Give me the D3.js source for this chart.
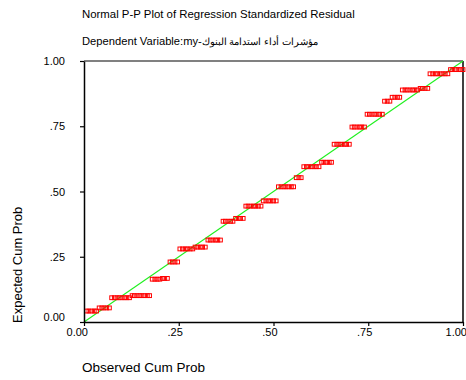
<!DOCTYPE html>
<html>
<head>
<meta charset="utf-8">
<script src="https://cdn.jsdelivr.net/npm/d3@7"></script>
<style>
  html, body { margin: 0; padding: 0; background: #fff; }
  svg { display: block; font-family: "Liberation Sans", Arial, sans-serif; }
</style>
</head>
<body>
<svg id="chart" width="466" height="380"></svg>
<script>
// ---- Data ----
const titleText = "Normal P-P Plot of Regression Standardized Residual";
const subtitleLatin = "Dependent Variable:my-";
const subtitleArabic = "مؤشرات أداء استدامة البنوك";
const xTitle = "Observed Cum Prob";
const yTitle = "Expected Cum Prob";

const xTickValues = [0, 0.25, 0.5, 0.75, 1];
const xTickLabels = ["0.00", ".25", ".50", ".75", "1.00"];
const yTickValues = [0, 0.25, 0.5, 0.75, 1];
const yTickLabels = ["0.00", ".25", ".50", ".75", "1.00"];

const observed = [
  0.007,0.013,0.020,0.027,0.033,0.040,0.047,0.053,0.060,0.067,
  0.073,0.080,0.087,0.093,0.100,0.107,0.113,0.120,0.127,0.133,
  0.140,0.147,0.153,0.160,0.167,0.173,0.180,0.187,0.193,0.200,
  0.207,0.213,0.220,0.227,0.233,0.240,0.247,0.253,0.260,0.267,
  0.273,0.280,0.287,0.293,0.300,0.307,0.313,0.320,0.327,0.333,
  0.340,0.347,0.353,0.360,0.367,0.373,0.380,0.387,0.393,0.400,
  0.407,0.413,0.420,0.427,0.433,0.440,0.447,0.453,0.460,0.467,
  0.473,0.480,0.487,0.493,0.500,0.507,0.513,0.520,0.527,0.533,
  0.540,0.547,0.553,0.560,0.567,0.573,0.580,0.587,0.593,0.600,
  0.607,0.613,0.620,0.627,0.633,0.640,0.647,0.653,0.660,0.667,
  0.673,0.680,0.687,0.693,0.700,0.707,0.713,0.720,0.727,0.733,
  0.740,0.747,0.753,0.760,0.767,0.773,0.780,0.787,0.793,0.800,
  0.807,0.813,0.820,0.827,0.833,0.840,0.847,0.853,0.860,0.867,
  0.873,0.880,0.887,0.893,0.900,0.907,0.913,0.920,0.927,0.933,
  0.940,0.947,0.953,0.960,0.967,0.973,0.980,0.987,0.993,1.000
];

const expected = [
  0.042,0.042,0.042,0.042,0.042,
  0.054,0.054,0.054,0.054,0.054,
  0.093,0.093,0.093,0.093,0.093,0.093,0.093,0.093,
  0.101,0.101,0.101,0.101,0.101,0.101,0.101,0.101,
  0.164,0.164,0.164,0.164,
  0.167,0.167,0.167,
  0.230,0.230,0.230,0.230,
  0.280,0.280,0.280,0.280,0.280,0.280,
  0.287,0.287,0.287,0.287,0.287,
  0.314,0.314,0.314,0.314,0.314,0.314,
  0.386,0.386,0.386,0.386,0.386,
  0.397,0.397,0.397,0.397,
  0.444,0.444,0.444,0.444,0.444,0.444,0.444,
  0.464,0.464,0.464,0.464,0.464,0.464,
  0.518,0.518,0.518,0.518,0.518,0.518,0.518,
  0.553,0.553,0.553,
  0.595,0.595,0.595,0.595,0.595,0.595,0.595,
  0.612,0.612,0.612,0.612,0.612,
  0.681,0.681,0.681,0.681,0.681,0.681,0.681,
  0.747,0.747,0.747,0.747,0.747,0.747,
  0.796,0.796,0.796,0.796,0.796,0.796,0.796,
  0.846,0.846,0.846,
  0.861,0.861,0.861,0.861,
  0.889,0.889,0.889,0.889,0.889,0.889,0.889,
  0.895,0.895,0.895,0.895,
  0.951,0.951,0.951,0.951,0.951,0.951,0.951,0.951,
  0.967,0.967,0.967,0.967,0.967,0.967
];

const refLine = [[0, 0], [1, 1]];

(function () {
// ---- Layout ----
const svg = d3.select("#chart");
const pLeft = 84, pRight = 463, pTop = 61, pBottom = 322;

const x = d3.scaleLinear().domain([0, 1]).range([pLeft, pRight]);
const y = d3.scaleLinear().domain([0, 1]).range([pBottom, pTop]);

// Titles
svg.append("text").attr("x", 82).attr("y", 18)
  .attr("font-size", 11.4).attr("fill", "#000").text(titleText);
const sub = svg.append("text").attr("x", 82).attr("y", 45)
  .attr("font-size", 11.2).attr("fill", "#000");
sub.append("tspan").text(subtitleLatin);
sub.append("tspan").attr("font-size", 9.6).text(subtitleArabic);

// Frame: top grey, right black
svg.append("line").attr("x1", pLeft).attr("x2", pRight).attr("y1", pTop).attr("y2", pTop)
  .attr("stroke", "#808080").attr("stroke-width", 2);
svg.append("line").attr("x1", pRight).attr("x2", pRight).attr("y1", pTop).attr("y2", pBottom)
  .attr("stroke", "#000").attr("stroke-width", 1.5);

// Reference line
svg.append("path")
  .attr("d", d3.line().x(d => x(d[0])).y(d => y(d[1]))(refLine))
  .attr("fill", "none").attr("stroke", "#1ef01e").attr("stroke-width", 1.1);

// Points
const pts = observed.map((v, i) => ({ o: v, e: expected[i] }));
const ms = 3.8;
svg.append("g").selectAll("rect").data(pts).join("rect")
  .attr("x", d => x(d.o) - ms / 2)
  .attr("y", d => y(d.e) - ms / 2)
  .attr("width", ms).attr("height", ms)
  .attr("fill", "none").attr("stroke", "#ff0000").attr("stroke-width", 1);

// Axes
const xAxis = d3.axisBottom(x).tickValues(xTickValues)
  .tickFormat((d, i) => xTickLabels[i]).tickSize(4).tickSizeOuter(0);
const gx = svg.append("g").attr("transform", `translate(0,${pBottom})`).call(xAxis);
gx.select(".domain").attr("stroke", "#000").attr("stroke-width", 1.5);
gx.selectAll(".tick line").attr("stroke", "#000").attr("stroke-width", 1.2);
gx.selectAll(".tick text").attr("font-size", 11).attr("font-family", "Liberation Sans, Arial, sans-serif")
  .attr("fill", "#000").attr("text-anchor", "end").attr("dx", 3.5).attr("y", 6).attr("dy", "0.71em");

const yAxis = d3.axisLeft(y).tickValues(yTickValues)
  .tickFormat((d, i) => yTickLabels[i]).tickSize(4).tickSizeOuter(0);
const gy = svg.append("g").attr("transform", `translate(${pLeft},0)`).call(yAxis);
gy.select(".domain").attr("stroke", "#000").attr("stroke-width", 1.5);
gy.selectAll(".tick line").attr("stroke", "#000").attr("stroke-width", 1.2);
gy.selectAll(".tick text").attr("font-size", 11).attr("font-family", "Liberation Sans, Arial, sans-serif")
  .attr("fill", "#000").attr("x", -19)
  .attr("dy", (d) => d === 0 ? "-0.15em" : "0.32em");

// Axis titles
svg.append("text").attr("x", 82).attr("y", 372)
  .attr("font-size", 13.5).attr("fill", "#000").text(xTitle);
svg.append("text")
  .attr("transform", `translate(22,323) rotate(-90)`)
  .attr("font-size", 13).attr("fill", "#000").text(yTitle);
})();
</script>
</body>
</html>
